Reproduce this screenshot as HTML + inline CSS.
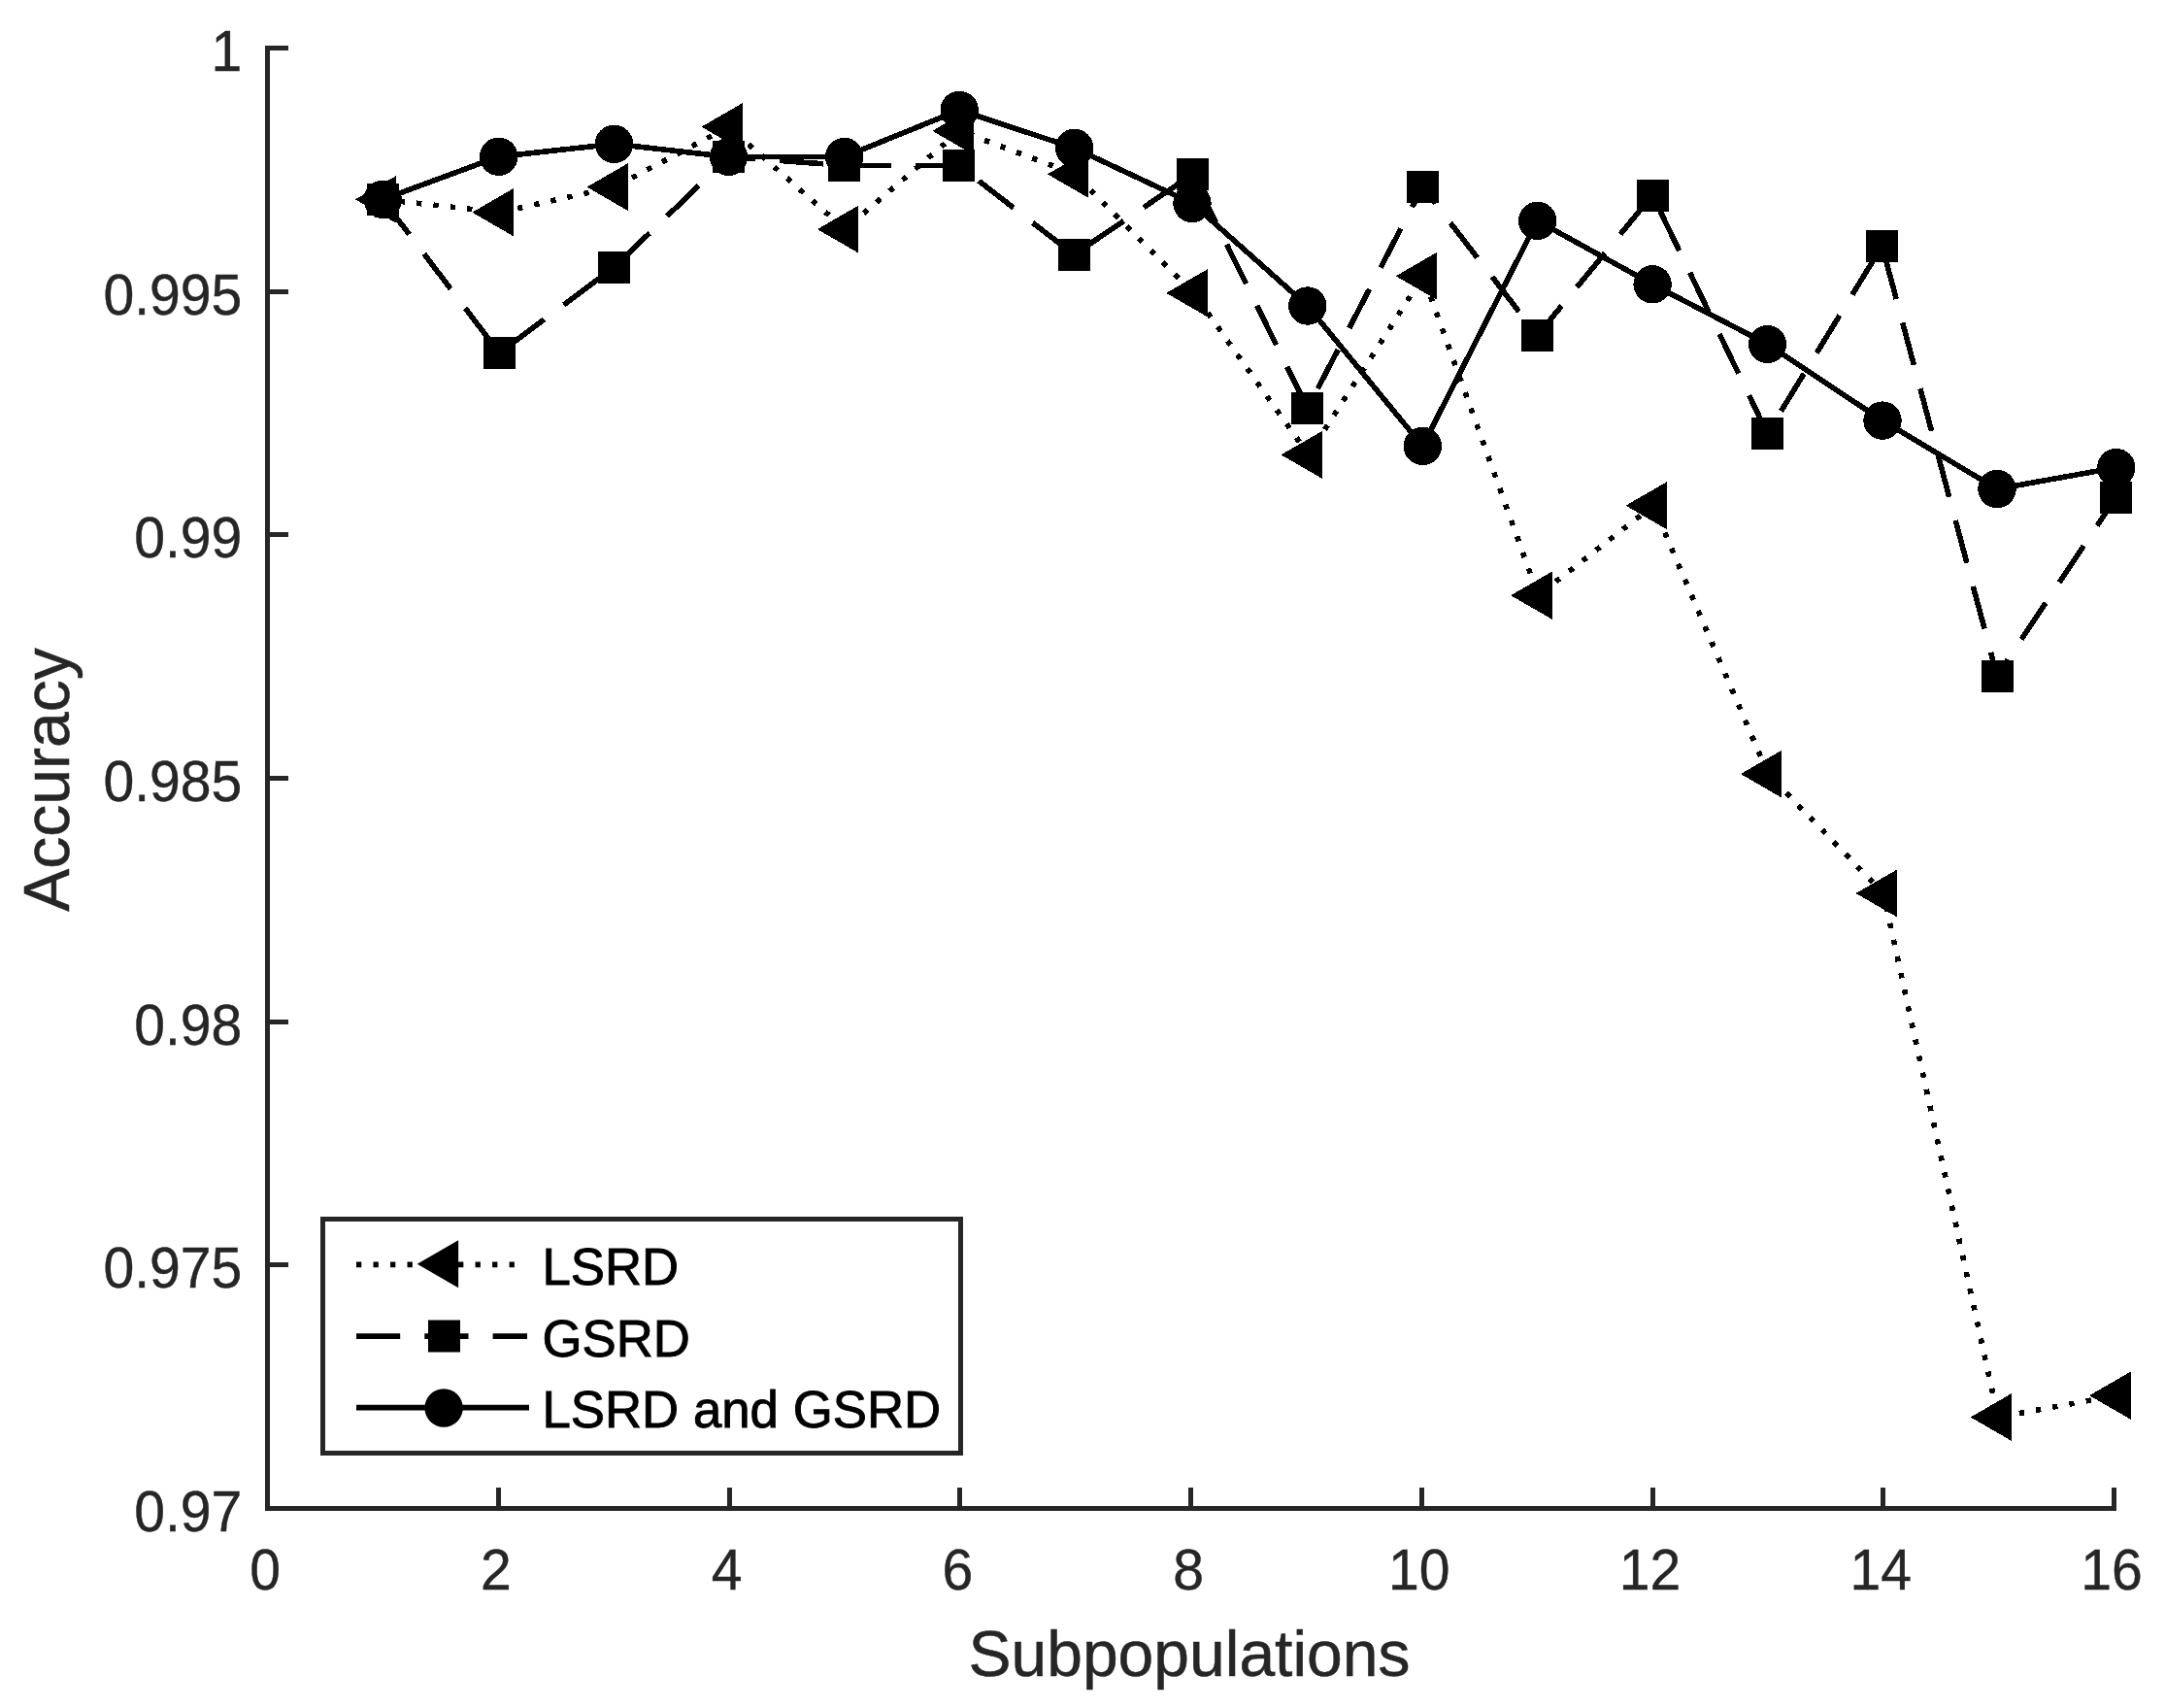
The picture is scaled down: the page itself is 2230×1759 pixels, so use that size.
<!DOCTYPE html>
<html lang="en"><head><meta charset="utf-8"><title>Accuracy vs Subpopulations</title>
<style>
html,body{margin:0;padding:0;background:#fff;}
body{width:2230px;height:1759px;overflow:hidden;}
svg{display:block;font-family:"Liberation Sans",Arial,Helvetica,sans-serif;}
.tk{font-size:58.6px;fill:#262626;stroke:#262626;stroke-width:.4px;}
.lb{font-size:66px;fill:#262626;stroke:#262626;stroke-width:.5px;}
.lg{font-size:53.5px;fill:#000;stroke:#000;stroke-width:.9px;}
</style></head><body>
<svg width="2230" height="1759" viewBox="0 0 2230 1759">
<rect width="2230" height="1759" fill="#fff"/>
<g fill="#262626" shape-rendering="crispEdges">
<rect x="273" y="47" width="5" height="1509"/>
<rect x="273" y="1551" width="1907" height="5"/>
<rect x="273" y="47.0" width="24" height="5"/>
<rect x="273" y="297.7" width="24" height="5"/>
<rect x="273" y="548.3" width="24" height="5"/>
<rect x="273" y="799.0" width="24" height="5"/>
<rect x="273" y="1049.7" width="24" height="5"/>
<rect x="273" y="1300.3" width="24" height="5"/>
<rect x="510.8" y="1532" width="5" height="24"/>
<rect x="748.5" y="1532" width="5" height="24"/>
<rect x="986.2" y="1532" width="5" height="24"/>
<rect x="1224.0" y="1532" width="5" height="24"/>
<rect x="1461.8" y="1532" width="5" height="24"/>
<rect x="1699.5" y="1532" width="5" height="24"/>
<rect x="1937.2" y="1532" width="5" height="24"/>
<rect x="2175.0" y="1532" width="5" height="24"/>
</g>
<g class="tk" text-anchor="end">
<text transform="translate(249.4,72.9) scale(0.975,1)">1</text>
<text transform="translate(249.4,323.6) scale(0.975,1)">0.995</text>
<text transform="translate(249.4,574.2) scale(0.975,1)">0.99</text>
<text transform="translate(249.4,824.9) scale(0.975,1)">0.985</text>
<text transform="translate(249.4,1075.6) scale(0.975,1)">0.98</text>
<text transform="translate(249.4,1326.2) scale(0.975,1)">0.975</text>
<text transform="translate(249.4,1576.9) scale(0.975,1)">0.97</text>
</g>
<g class="tk" text-anchor="middle">
<text transform="translate(273.1,1637.4) scale(0.975,1)">0</text>
<text transform="translate(510.9,1637.4) scale(0.975,1)">2</text>
<text transform="translate(748.6,1637.4) scale(0.975,1)">4</text>
<text transform="translate(986.4,1637.4) scale(0.975,1)">6</text>
<text transform="translate(1224.1,1637.4) scale(0.975,1)">8</text>
<text transform="translate(1461.8,1637.4) scale(0.975,1)">10</text>
<text transform="translate(1699.6,1637.4) scale(0.975,1)">12</text>
<text transform="translate(1937.3,1637.4) scale(0.975,1)">14</text>
<text transform="translate(2175.1,1637.4) scale(0.975,1)">16</text>
</g>
<text class="lb" text-anchor="middle" x="1225" y="1726.2">Subpopulations</text>
<text class="lb" text-anchor="middle" transform="translate(70.7,803) rotate(-90)">Accuracy</text>
<g fill="none" stroke="#000" stroke-width="5.6" stroke-linejoin="miter" shape-rendering="crispEdges">
<polyline stroke-dasharray="5.3 12.21" points="394.2,205.4 514.6,218.7 632.8,192.6 750.8,130.6 870.2,236.1 988.6,134.8 1107.2,179.4 1229.5,301.8 1347.8,468.4 1466.0,284.3 1584.4,613.2 1702.8,520.7 1821.2,797.1 1939.9,920.0 2058.0,1459.5 2180.4,1437.2"/>
<polyline stroke-dasharray="45.2 25.1" points="394.2,205.4 514.2,363.4 632.3,275.5 750.5,161.5 869.6,170.4 987.8,170.5 1106.2,262.3 1228.0,179.7 1346.8,420.5 1465.3,192.4 1583.5,345.4 1702.1,201.0 1820.5,446.4 1938.6,253.3 2057.0,696.0 2179.5,512.4"/>
<polyline points="394.2,205.4 513.7,161.3 632.5,148.3 750.5,161.5 869.6,161.5 988.2,113.4 1106.6,152.4 1228.0,209.4 1346.8,315.0 1465.3,459.4 1583.6,227.4 1702.1,292.8 1820.5,354.5 1939.0,433.1 2057.0,503.6 2179.8,481.6"/>
</g>
<g fill="#000" shape-rendering="crispEdges">
<polygon points="365.9,205.4 408.3,180.9 408.3,229.9"/>
<polygon points="486.3,218.7 528.7,194.2 528.7,243.2"/>
<polygon points="604.5,192.6 646.9,168.1 646.9,217.1"/>
<polygon points="722.5,130.6 764.9,106.1 764.9,155.1"/>
<polygon points="841.9,236.1 884.3,211.6 884.3,260.6"/>
<polygon points="960.3,134.8 1002.7,110.3 1002.7,159.3"/>
<polygon points="1078.9,179.4 1121.3,154.9 1121.3,203.9"/>
<polygon points="1201.2,301.8 1243.6,277.3 1243.6,326.3"/>
<polygon points="1319.5,468.4 1361.9,443.9 1361.9,492.9"/>
<polygon points="1437.7,284.3 1480.1,259.8 1480.1,308.8"/>
<polygon points="1556.1,613.2 1598.5,588.7 1598.5,637.7"/>
<polygon points="1674.5,520.7 1716.9,496.2 1716.9,545.2"/>
<polygon points="1792.9,797.1 1835.3,772.6 1835.3,821.6"/>
<polygon points="1911.6,920.0 1954.0,895.5 1954.0,944.5"/>
<polygon points="2029.7,1459.5 2072.1,1435.0 2072.1,1484.0"/>
<polygon points="2152.1,1437.2 2194.5,1412.7 2194.5,1461.7"/>
<rect x="377.7" y="188.9" width="33.0" height="33.0"/>
<rect x="497.7" y="346.9" width="33.0" height="33.0"/>
<rect x="615.8" y="259.0" width="33.0" height="33.0"/>
<rect x="734.0" y="145.0" width="33.0" height="33.0"/>
<rect x="853.1" y="153.9" width="33.0" height="33.0"/>
<rect x="971.3" y="154.0" width="33.0" height="33.0"/>
<rect x="1089.7" y="245.8" width="33.0" height="33.0"/>
<rect x="1211.5" y="163.2" width="33.0" height="33.0"/>
<rect x="1330.3" y="404.0" width="33.0" height="33.0"/>
<rect x="1448.8" y="175.9" width="33.0" height="33.0"/>
<rect x="1567.0" y="328.9" width="33.0" height="33.0"/>
<rect x="1685.6" y="184.5" width="33.0" height="33.0"/>
<rect x="1804.0" y="429.9" width="33.0" height="33.0"/>
<rect x="1922.1" y="236.8" width="33.0" height="33.0"/>
<rect x="2040.5" y="679.5" width="33.0" height="33.0"/>
<rect x="2163.0" y="495.9" width="33.0" height="33.0"/>
<circle cx="394.2" cy="205.4" r="19.7"/>
<circle cx="513.7" cy="161.3" r="19.7"/>
<circle cx="632.5" cy="148.3" r="19.7"/>
<circle cx="750.5" cy="161.5" r="19.7"/>
<circle cx="869.6" cy="161.5" r="19.7"/>
<circle cx="988.2" cy="113.4" r="19.7"/>
<circle cx="1106.6" cy="152.4" r="19.7"/>
<circle cx="1228.0" cy="209.4" r="19.7"/>
<circle cx="1346.8" cy="315.0" r="19.7"/>
<circle cx="1465.3" cy="459.4" r="19.7"/>
<circle cx="1583.6" cy="227.4" r="19.7"/>
<circle cx="1702.1" cy="292.8" r="19.7"/>
<circle cx="1820.5" cy="354.5" r="19.7"/>
<circle cx="1939.0" cy="433.1" r="19.7"/>
<circle cx="2057.0" cy="503.6" r="19.7"/>
<circle cx="2179.8" cy="481.6" r="19.7"/>
</g>
<rect x="332.5" y="1255.5" width="657" height="241" fill="#fff" stroke="#262626" stroke-width="5"/>
<g fill="none" stroke="#000" stroke-width="5.6">
<line x1="367" x2="540" y1="1302.4" y2="1302.4" stroke-dasharray="5.3 12.21"/>
<line x1="367" x2="543" y1="1376.1" y2="1376.1" stroke-dasharray="45.2 25.1"/>
<line x1="367" x2="545" y1="1449.6" y2="1449.6"/>
</g>
<g fill="#000">
<polygon points="429.7,1301.7 472.1,1277.2 472.1,1326.2"/>
<rect x="441.0" y="1359.5" width="33.0" height="33.0"/>
<circle cx="457.1" cy="1450.0" r="19.7"/>
</g>
<g class="lg">
<text transform="translate(558.4,1323.2) scale(0.987,1)">LSRD</text>
<text transform="translate(558.4,1396.9) scale(0.987,1)">GSRD</text>
<text transform="translate(558.4,1469.8) scale(0.987,1)">LSRD and GSRD</text>
</g>
</svg></body></html>
